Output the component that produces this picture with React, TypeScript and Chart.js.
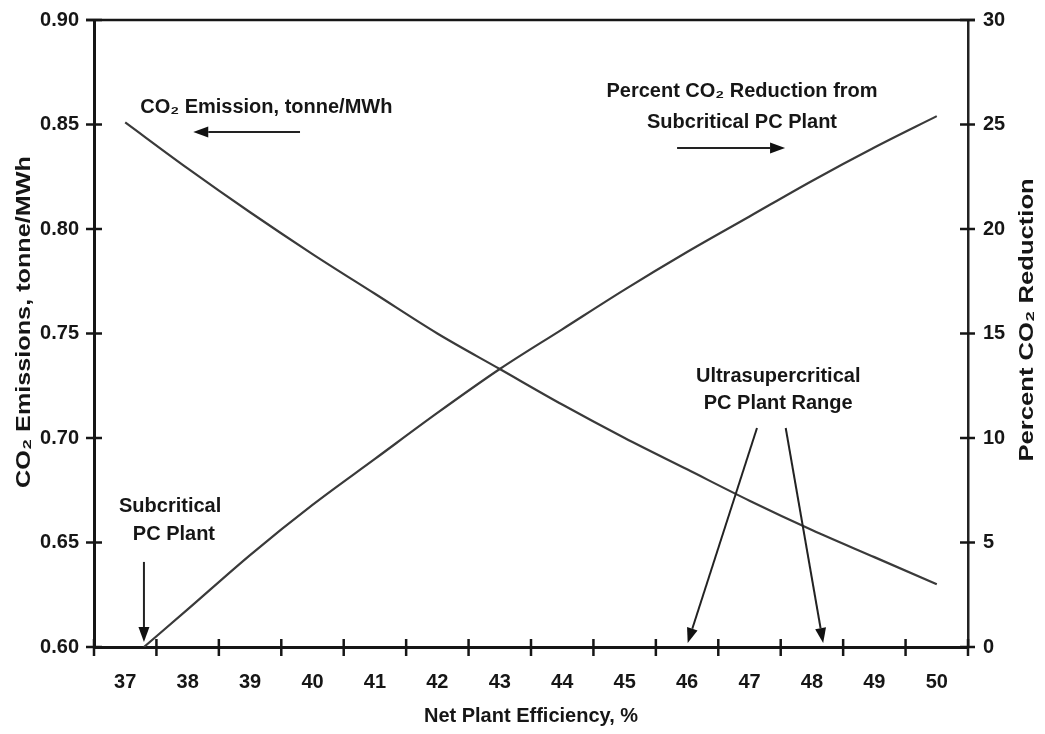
import React, { useEffect, useRef } from "react";
import { Chart, registerables } from "chart.js";

Chart.register(...registerables);

// ---- data ----
const efficiency = [37, 38, 39, 40, 41, 42, 43, 44, 45, 46, 47, 48, 49, 50];
const emissions = [0.851, 0.829, 0.808, 0.788, 0.769, 0.75, 0.733, 0.716, 0.7, 0.685, 0.67, 0.656, 0.643, 0.63];
const reductionEfficiency = [37.3, 38, 39, 40, 41, 42, 43, 44, 45, 46, 47, 48, 49, 50];
const reduction = [0, 1.8, 4.4, 6.8, 9.0, 11.2, 13.3, 15.2, 17.1, 18.9, 20.6, 22.3, 23.9, 25.4];

const xTickLabels = [37, 38, 39, 40, 41, 42, 43, 44, 45, 46, 47, 48, 49, 50];
const xTickMarks = [36.5, 37.5, 38.5, 39.5, 40.5, 41.5, 42.5, 43.5, 44.5, 45.5, 46.5, 47.5, 48.5, 49.5, 50.5];
const leftTicks = [0.6, 0.65, 0.7, 0.75, 0.8, 0.85, 0.9];
const rightTicks = [0, 5, 10, 15, 20, 25, 30];

// annotations in data units (x: efficiency %, y: left-axis tonne/MWh)
const noteTexts = [
  { text: "CO\u2082 Emission, tonne/MWh", x: 37.24, y: 0.858, align: "left" },
  { text: "Percent CO\u2082 Reduction from", x: 46.88, y: 0.8656, align: "center" },
  { text: "Subcritical PC Plant", x: 46.88, y: 0.8512, align: "center" },
  { text: "Ultrasupercritical", x: 47.46, y: 0.7292, align: "center" },
  { text: "PC Plant Range", x: 47.46, y: 0.7167, align: "center" },
  { text: "Subcritical", x: 37.72, y: 0.667, align: "center" },
  { text: "PC Plant", x: 37.78, y: 0.6536, align: "center" },
];
const noteArrows = [
  { x1: 39.8, y1: 0.8464, x2: 38.09, y2: 0.8464 },
  { x1: 45.84, y1: 0.8388, x2: 47.57, y2: 0.8388 },
  { x1: 47.12, y1: 0.7048, x2: 46.01, y2: 0.6019 },
  { x1: 47.58, y1: 0.7048, x2: 48.18, y2: 0.6019 },
  { x1: 37.3, y1: 0.6407, x2: 37.3, y2: 0.6024 },
];

const leftTitle = "CO\u2082 Emissions, tonne/MWh";
const rightTitle = "Percent CO\u2082 Reduction";
const bottomTitle = "Net Plant Efficiency, %";

const FONT = "'Liberation Sans', Arial, sans-serif";
const INK = "#161616";

const decorPlugin = {
  id: "decor",
  afterDraw(chart: any) {
    const { ctx, chartArea } = chart;
    const xs = chart.scales.x;
    const ys = chart.scales.y;
    const yr = chart.scales.y1;
    ctx.save();
    ctx.strokeStyle = INK;
    ctx.fillStyle = INK;
    // top frame line
    ctx.lineWidth = 2.5;
    ctx.beginPath();
    ctx.moveTo(chartArea.left - 8, chartArea.top);
    ctx.lineTo(chartArea.right + 7, chartArea.top);
    ctx.stroke();
    // tick marks crossing the axes
    ctx.lineWidth = 2.5;
    leftTicks.forEach((v) => {
      const py = ys.getPixelForValue(v);
      ctx.beginPath();
      ctx.moveTo(chartArea.left - 8, py);
      ctx.lineTo(chartArea.left + 8, py);
      ctx.stroke();
    });
    rightTicks.forEach((v) => {
      const py = yr.getPixelForValue(v);
      ctx.beginPath();
      ctx.moveTo(chartArea.right - 8, py);
      ctx.lineTo(chartArea.right + 7, py);
      ctx.stroke();
    });
    xTickMarks.forEach((v) => {
      const px = xs.getPixelForValue(v);
      ctx.beginPath();
      ctx.moveTo(px, chartArea.bottom - 8);
      ctx.lineTo(px, chartArea.bottom + 9);
      ctx.stroke();
    });
    // annotation texts
    ctx.font = `bold 20px ${FONT}`;
    ctx.textBaseline = "middle";
    noteTexts.forEach((n) => {
      ctx.textAlign = n.align;
      ctx.fillText(n.text, xs.getPixelForValue(n.x), ys.getPixelForValue(n.y));
    });
    // arrows
    ctx.lineWidth = 2;
    ctx.strokeStyle = "#222";
    ctx.fillStyle = "#111";
    noteArrows.forEach((a) => {
      const x1 = xs.getPixelForValue(a.x1);
      const y1 = ys.getPixelForValue(a.y1);
      const x2 = xs.getPixelForValue(a.x2);
      const y2 = ys.getPixelForValue(a.y2);
      const ang = Math.atan2(y2 - y1, x2 - x1);
      const hl = 15;
      const hw = 5.5;
      const bx = x2 - hl * Math.cos(ang);
      const by = y2 - hl * Math.sin(ang);
      ctx.beginPath();
      ctx.moveTo(x1, y1);
      ctx.lineTo(bx, by);
      ctx.stroke();
      ctx.beginPath();
      ctx.moveTo(x2, y2);
      ctx.lineTo(bx + hw * Math.sin(ang), by - hw * Math.cos(ang));
      ctx.lineTo(bx - hw * Math.sin(ang), by + hw * Math.cos(ang));
      ctx.closePath();
      ctx.fill();
    });
    // vertical axis titles (both read bottom to top, slightly stretched as in the scan)
    ctx.fillStyle = INK;
    ctx.textAlign = "center";
    ctx.textBaseline = "middle";
    ctx.font = `bold 21px ${FONT}`;
    ctx.save();
    ctx.translate(16, ys.getPixelForValue(0.7555));
    ctx.rotate(-Math.PI / 2);
    ctx.scale(1.2, 1);
    ctx.fillText(leftTitle, 0, 0);
    ctx.restore();
    ctx.save();
    ctx.translate(1019, ys.getPixelForValue(0.7565));
    ctx.rotate(-Math.PI / 2);
    ctx.scale(1.22, 1);
    ctx.fillText(rightTitle, 0, 0);
    ctx.restore();
    ctx.restore();
  },
};

const zeroPad = (s: any) => {
  s.paddingTop = 0;
  s.paddingBottom = 0;
  s.paddingLeft = 0;
  s.paddingRight = 0;
};

export default function App() {
  const canvasRef = useRef<HTMLCanvasElement | null>(null);

  useEffect(() => {
    if (!canvasRef.current) return;
    const tickFont = { family: FONT, size: 20, weight: "bold" as const };
    const chart = new Chart(canvasRef.current, {
      type: "line",
      data: {
        datasets: [
          {
            label: "CO2 Emission, tonne/MWh",
            data: efficiency.map((x, i) => ({ x, y: emissions[i] })),
            yAxisID: "y",
            borderColor: "#3a3a3a",
            borderWidth: 2.2,
            pointRadius: 0,
            cubicInterpolationMode: "monotone",
            fill: false,
          },
          {
            label: "Percent CO2 Reduction",
            data: reductionEfficiency.map((x, i) => ({ x, y: reduction[i] })),
            yAxisID: "y1",
            borderColor: "#3a3a3a",
            borderWidth: 2.2,
            pointRadius: 0,
            cubicInterpolationMode: "monotone",
            fill: false,
          },
        ],
      },
      options: {
        responsive: false,
        animation: false,
        layout: { padding: { top: 12, left: 0, right: 0, bottom: 0 } },
        plugins: {
          legend: { display: false },
          tooltip: { enabled: false },
        },
        scales: {
          x: {
            type: "linear",
            min: 36.5,
            max: 50.5,
            afterBuildTicks: (s: any) => {
              s.ticks = xTickLabels.map((v) => ({ value: v }));
            },
            afterFit: (s: any) => {
              s.height = 79;
              zeroPad(s);
            },
            grid: { display: false },
            border: { display: true, color: INK, width: 3 },
            ticks: {
              font: tickFont,
              color: INK,
              padding: 15,
              maxRotation: 0,
              autoSkip: false,
              callback: (v: any) => String(v),
            },
            title: {
              display: true,
              text: bottomTitle,
              font: { family: FONT, size: 20, weight: "bold", lineHeight: 1 },
              color: INK,
              padding: { top: 0, bottom: 0 },
            },
          },
          y: {
            type: "linear",
            position: "left",
            min: 0.6,
            max: 0.9,
            afterBuildTicks: (s: any) => {
              s.ticks = leftTicks.map((v) => ({ value: v }));
            },
            afterFit: (s: any) => {
              s.width = 86;
              zeroPad(s);
            },
            grid: { display: false },
            border: { display: true, color: INK, width: 3 },
            ticks: {
              font: tickFont,
              color: INK,
              padding: 7,
              autoSkip: false,
              callback: (v: any) => Number(v).toFixed(2),
            },
          },
          y1: {
            type: "linear",
            position: "right",
            min: 0,
            max: 30,
            afterBuildTicks: (s: any) => {
              s.ticks = rightTicks.map((v) => ({ value: v }));
            },
            afterFit: (s: any) => {
              s.width = 69;
              zeroPad(s);
            },
            grid: { display: false },
            border: { display: true, color: "#222", width: 2.5 },
            ticks: {
              font: tickFont,
              color: INK,
              padding: 7,
              autoSkip: false,
              callback: (v: any) => String(v),
            },
          },
        },
      },
      plugins: [decorPlugin],
    });
    return () => chart.destroy();
  }, []);

  return (
    <div style={{ width: 1029, height: 718 }}>
      <canvas ref={canvasRef} width={1029} height={718} style={{ display: "block" }} />
    </div>
  );
}
